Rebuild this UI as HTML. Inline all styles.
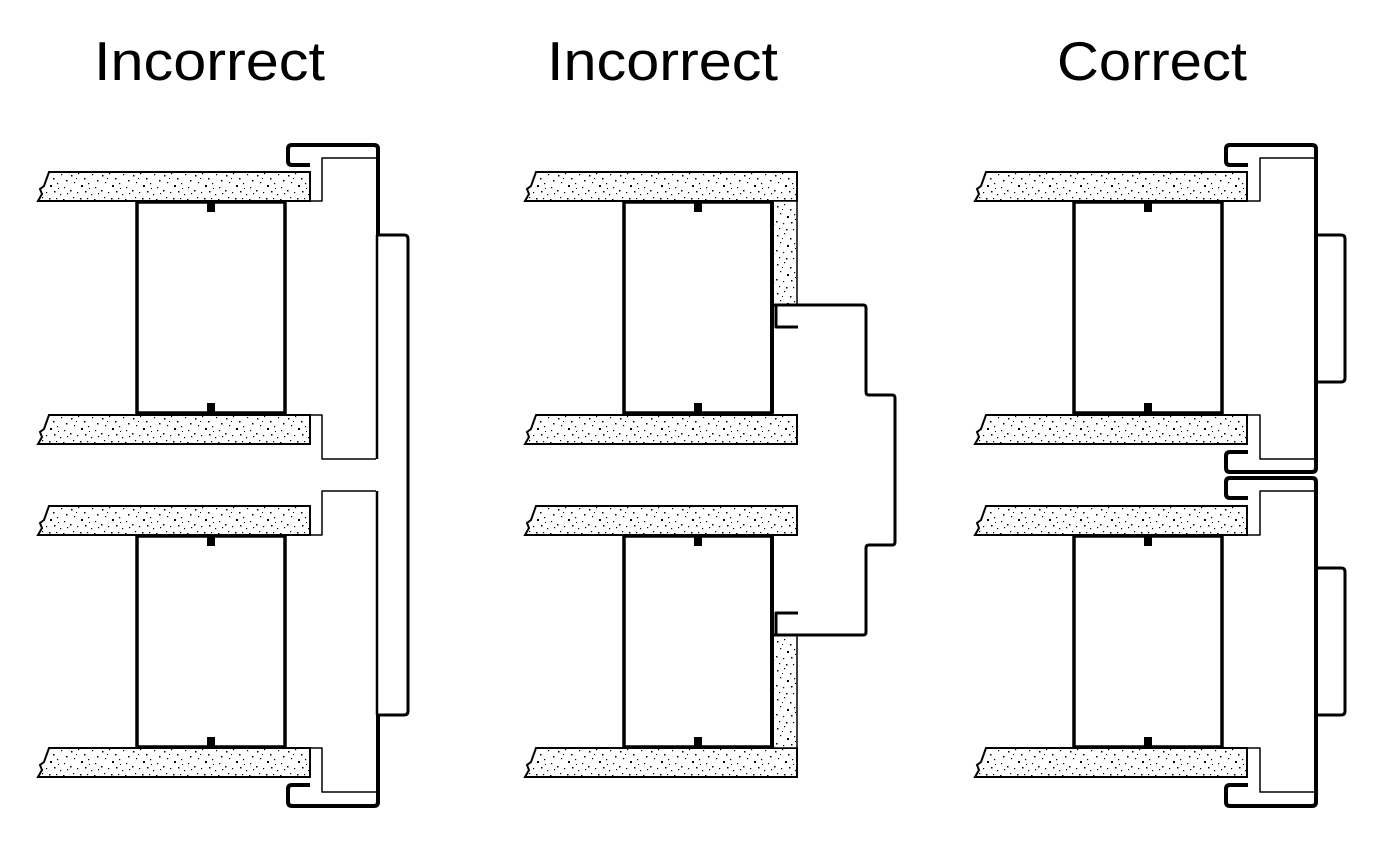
<!DOCTYPE html>
<html><head><meta charset="utf-8"><style>html,body{margin:0;padding:0;background:#fff}svg{display:block}</style></head>
<body>
<svg width="1400" height="844" viewBox="0 0 1400 844" xmlns="http://www.w3.org/2000/svg">
<defs>
<pattern id="st" width="31" height="29" patternUnits="userSpaceOnUse">
<rect width="31" height="29" fill="#fff"/>
<g fill="#000">
<rect x="2" y="3" width="1.5" height="1.5"/><rect x="9" y="1" width="1.2" height="1.2"/><rect x="15" y="6" width="1.5" height="1.5"/>
<rect x="23" y="2" width="1.2" height="1.2"/><rect x="28" y="8" width="1.5" height="1.5"/><rect x="5" y="10" width="1.2" height="1.2"/>
<rect x="12" y="13" width="2" height="2"/><rect x="19" y="11" width="1.2" height="1.2"/><rect x="26" y="15" width="1.2" height="1.2"/>
<rect x="1" y="18" width="1.5" height="1.5"/><rect x="8" y="20" width="1.2" height="1.2"/><rect x="16" y="19" width="1.5" height="1.5"/>
<rect x="22" y="22" width="1.2" height="1.2"/><rect x="29" y="21" width="1.2" height="1.2"/><rect x="4" y="25" width="1.2" height="1.2"/>
<rect x="11" y="26" width="1.5" height="1.5"/><rect x="18" y="26" width="1.2" height="1.2"/><rect x="25" y="27" width="1.5" height="1.5"/>
<rect x="20" y="16" width="1" height="1"/><rect x="7" y="6" width="1" height="1"/>
</g>
</pattern>
<g id="slab">
<path d="M11,0 L272,0 L272,29 L0,29 L4,22 L2,17 L6,14 Z" fill="url(#st)" stroke="#000" stroke-width="2"/>
</g>
<g id="box">
<rect x="137" y="0" width="148" height="211" fill="#fff" stroke="#000" stroke-width="3.5"/>
<rect x="207" y="0" width="8" height="10" fill="#000"/>
<rect x="207" y="201" width="8" height="10" fill="#000"/>
</g>
<g id="stack">
<use href="#slab" transform="translate(38,172)"/>
<use href="#slab" transform="translate(38,415)"/>
<use href="#slab" transform="translate(38,506)"/>
<use href="#slab" transform="translate(38,748)"/>
<use href="#box" transform="translate(0,202)"/>
<use href="#box" transform="translate(0,536)"/>
</g>
</defs>

<g font-family="Liberation Sans, sans-serif" font-size="55" fill="#000">
<text x="94" y="80" textLength="231" lengthAdjust="spacingAndGlyphs">Incorrect</text>
<text x="547" y="80" textLength="231" lengthAdjust="spacingAndGlyphs">Incorrect</text>
<text x="1057" y="80" textLength="190" lengthAdjust="spacingAndGlyphs">Correct</text>
</g>

<!-- LEFT PANEL -->
<use href="#stack"/>
<g fill="none" stroke="#000" stroke-linejoin="round">
<path d="M310,201 L322,201 L322,158 L376,158 M310,415 L322,415 L322,459 L376,459 M310,535 L322,535 L322,491 L376,491 M310,748 L322,748 L322,792 L376,792" stroke-width="1.5"/>
<path d="M377,235 L377,459 M377,491 L377,715" stroke-width="2.5"/>
<path d="M310,165 L292,165 Q288,165 288,161 L288,149 Q288,145 292,145 L374,145 Q378,145 378,149 L378,235" stroke-width="4"/>
<path d="M378,235 L404,235 Q408,235 408,239 L408,711 Q408,715 404,715 L378,715" stroke-width="3"/>
<path d="M378,715 L378,802 Q378,806 374,806 L292,806 Q288,806 288,802 L288,789 Q288,785 292,785 L310,785" stroke-width="4"/>
</g>

<!-- MIDDLE PANEL -->
<g transform="translate(487,0)"><use href="#stack"/></g>
<rect x="773" y="201" width="24" height="104" fill="url(#st)" stroke="#000" stroke-width="1.5"/>
<rect x="773" y="635" width="24" height="113" fill="url(#st)" stroke="#000" stroke-width="1.5"/>
<g fill="none" stroke="#000" stroke-linejoin="round">
<path d="M772,202 L772,413 M772,536 L772,747" stroke-width="4"/>
<path d="M772,305 L863,305 Q866,305 866,308 L866,392 Q866,395 869,395 L892,395 Q895,395 895,398 L895,542 Q895,545 892,545 L869,545 Q866,545 866,548 L866,632 Q866,635 863,635 L772,635" stroke-width="3"/>
<path d="M776,305 L776,327 L798,327 M776,635 L776,613 L798,613" stroke-width="3"/>
</g>

<!-- RIGHT PANEL -->
<g transform="translate(937,0)"><use href="#stack"/></g>
<g fill="none" stroke="#000" stroke-linejoin="round">
<path d="M1248,201 L1260,201 L1260,158 L1314,158 M1248,415 L1260,415 L1260,459 L1314,459 M1248,535 L1260,535 L1260,491 L1314,491 M1248,748 L1260,748 L1260,792 L1314,792" stroke-width="1.5"/>
<path d="M1248,165 L1230,165 Q1226,165 1226,161 L1226,149 Q1226,145 1230,145 L1312,145 Q1316,145 1316,149 L1316,468 Q1316,472 1312,472 L1230,472 Q1226,472 1226,468 L1226,456 Q1226,452 1230,452 L1248,452" stroke-width="4"/>
<path d="M1248,498 L1230,498 Q1226,498 1226,494 L1226,482 Q1226,478 1230,478 L1312,478 Q1316,478 1316,482 L1316,802 Q1316,806 1312,806 L1230,806 Q1226,806 1226,802 L1226,789 Q1226,785 1230,785 L1248,785" stroke-width="4"/>
<path d="M1316,235 L1341,235 Q1345,235 1345,239 L1345,378 Q1345,382 1341,382 L1316,382" stroke-width="3"/>
<path d="M1316,568 L1341,568 Q1345,568 1345,572 L1345,711 Q1345,715 1341,715 L1316,715" stroke-width="3"/>
</g>
</svg>
</body></html>
